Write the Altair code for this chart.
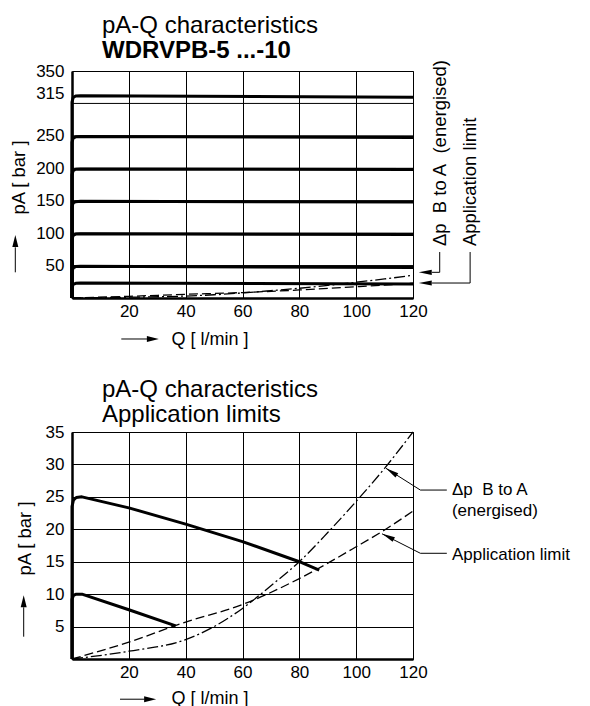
import altair as alt
import pandas as pd

FONT = "Liberation Sans"

# ---------------- top chart: pA-Q characteristics ----------------
top_curve_q = [0, 0, 0.4, 1.3, 3, 120]
top_pa_315 = [0, 302, 309, 311.5, 312, 309.5]
top_pa_250 = [0, 240, 246.5, 248.5, 249, 247.5]
top_pa_200 = [0, 190, 196.5, 198.5, 199, 198]
top_pa_150 = [0, 140, 146.5, 148.5, 149, 148]
top_pa_100 = [0, 90, 96.5, 98.5, 99, 98]
top_pa_50 = [0, 40, 46.5, 48.5, 49, 47]
top_pa_25 = [0, 15, 21, 22.7, 23, 21.5]

top_grid_pa = [50, 100, 150, 200, 250, 300]
top_y_labels = [50, 100, 150, 200, 250, 315, 350]
x_labels = [20, 40, 60, 80, 100, 120]

# shared characteristic lines (same in both charts)
limit_q = [0, 20, 40, 60, 80, 100, 110, 120]
limit_pa = [0, 2.6, 5.7, 8.4, 12.4, 17.3, 19.9, 22.8]
dp_q = [0, 20, 40, 50, 60, 70, 80, 90, 100, 110, 120]
dp_pa = [0, 1.2, 3.0, 5.0, 7.8, 11.3, 15.0, 19.5, 24.3, 29.4, 35.0]

# ---------------- bottom chart: application limits ----------------
bot_q_25 = [0, 0, 0.5, 1.5, 3.5, 20, 40, 60, 80, 87]
bot_pa_25 = [0, 23.5, 24.5, 24.9, 25, 23.3, 20.8, 18.1, 15.0, 13.7]
bot_q_10 = [0, 0, 0.5, 1.5, 3.5, 20, 36.5]
bot_pa_10 = [0, 9.2, 9.8, 10, 10, 7.6, 5.1]
bot_y_labels = [5, 10, 15, 20, 25, 30, 35]

# ---------------- annotations ----------------
top_note_text = ["Δp\u00a0 B to A\u00a0 (energised)", "Application limit"]
top_note_q = [129.4, 140.1]
top_note_pa = [80, 80]
top_lead_q = [129.4, 129.4, 140.1, 140.1, 17.35, -19.95]
top_lead_pa = [70.9, 39.6, 70.9, 23.1, -63.2, 39.6]
top_lead_q2 = [129.4, 126.7, 140.1, 126.7, 26.4, -19.95]
top_lead_pa2 = [39.6, 39.6, 23.1, 23.1, -63.2, 78.2]
top_head_q = [124.3, 124.3]
top_head_pa = [39.6, 23.1]
top_head_angle = [270, 270]
top_axis_head_q = [28.45, -19.95]
top_axis_head_pa = [-63.2, 87.7]
top_axis_head_angle = [90, 0]

bot_note_text = ["Δp\u00a0 B to A", "(energised)", "Application limit"]
bot_note_q = [133.7, 133.7, 133.7]
bot_note_pa = [26.0, 22.8, 16.0]
bot_lead_q = [122.6, 122.6, 122.6, 122.6, 16.9, -17.0]
bot_lead_pa = [26.05, 26.05, 16.3, 16.3, -6.2, 3.44]
bot_lead_q2 = [131.9, 110.5, 131.9, 109.1, 25.5, -17.0]
bot_lead_pa2 = [26.05, 29.4, 16.3, 19.3, -6.2, 7.97]
bot_head_q = [112.4, 111.2]
bot_head_pa = [28.86, 18.87]
bot_head_angle = [302.6, 296.9]
bot_axis_head_q = [27.5, -17.0]
bot_axis_head_pa = [-6.2, 8.91]
bot_axis_head_angle = [90, 0]

NOTE_ARROW = "M0,-1L0.4,1L-0.4,1Z"
AXIS_ARROW = "M0,-1L0.5,1L-0.5,1Z"


def curves_df(named):
    rows = []
    for name, qs, ps in named:
        for i, (q, p) in enumerate(zip(qs, ps)):
            rows.append({"curve": name, "i": i, "Q": q, "pA": p})
    return pd.DataFrame(rows)


def build(thick, y_domain, y_labels, y_grid, grid_rules, title,
          note_text, note_q, note_pa, note_angle, note_size,
          lead, head, axis_head, x_title_y, y_title_x):
    xs = alt.X("Q:Q", scale=alt.Scale(domain=[0, 120], nice=False, zero=False),
               axis=alt.Axis(values=x_labels, grid=True, title="Q [ l/min ]",
                             titleX=99, titleY=x_title_y, titleAlign="left",
                             titleBaseline="middle", titleFontSize=18))
    ys = alt.Y("pA:Q", scale=alt.Scale(domain=y_domain, nice=False, zero=False),
               axis=alt.Axis(values=y_labels, grid=y_grid, title="pA [ bar ]",
                             titleAngle=270, titleX=y_title_x, titleY=143,
                             titleAlign="left", titleBaseline="middle",
                             titleFontSize=18.5))
    layers = []
    if grid_rules:
        gdf = pd.DataFrame({"pA": grid_rules})
        layers.append(alt.Chart(gdf).mark_rule(color="black", strokeWidth=1)
                      .encode(y=ys))
    lim = curves_df([("limit", limit_q, limit_pa)])
    dp = curves_df([("dp", dp_q, dp_pa)])
    layers.append(alt.Chart(lim).mark_line(color="black", strokeWidth=1.3,
                                           strokeDash=[9, 4], interpolate="monotone")
                  .encode(x=xs, y=ys, order="i:Q"))
    layers.append(alt.Chart(dp).mark_line(color="black", strokeWidth=1.3,
                                          strokeDash=[11, 3, 2, 3], interpolate="monotone")
                  .encode(x=xs, y=ys, order="i:Q"))
    layers.append(alt.Chart(curves_df(thick)).mark_line(color="black", strokeWidth=3,
                                                        strokeJoin="round")
                  .encode(x=xs, y=ys, detail="curve:N", order="i:Q"))
    ldf = pd.DataFrame({"Q": lead[0], "pA": lead[1], "Q2": lead[2], "pA2": lead[3]})
    layers.append(alt.Chart(ldf).mark_rule(color="black", strokeWidth=1)
                  .encode(x=xs, y=ys, x2="Q2:Q", y2="pA2:Q"))
    hdf = pd.DataFrame({"Q": head[0], "pA": head[1], "ang": head[2]})
    layers.append(alt.Chart(hdf).mark_point(shape=NOTE_ARROW, filled=True, size=169,
                                            color="black", opacity=1, strokeWidth=0)
                  .encode(x=xs, y=ys, angle=alt.Angle("ang:Q", scale=None)))
    adf = pd.DataFrame({"Q": axis_head[0], "pA": axis_head[1], "ang": axis_head[2]})
    layers.append(alt.Chart(adf).mark_point(shape=AXIS_ARROW, filled=True, size=144,
                                            color="black", opacity=1, strokeWidth=0)
                  .encode(x=xs, y=ys, angle=alt.Angle("ang:Q", scale=None)))
    ndf = pd.DataFrame({"Q": note_q, "pA": note_pa, "t": note_text})
    layers.append(alt.Chart(ndf).mark_text(angle=note_angle, align="left",
                                           baseline="middle", font=FONT,
                                           fontSize=note_size, color="black")
                  .encode(x=xs, y=ys, text="t:N"))
    return alt.layer(*layers).properties(width=341, height=227, title=title)


def title_params(text, sub, sub_weight):
    return alt.TitleParams(
        text=text, subtitle=sub, anchor="start", frame="group", dx=30,
        font=FONT, fontSize=24, fontWeight="normal", color="black",
        subtitleFont=FONT, subtitleFontSize=24, subtitleFontWeight=sub_weight,
        subtitleColor="black", subtitlePadding=1, offset=-4)


top = build(
    [("315", top_curve_q, top_pa_315), ("250", top_curve_q, top_pa_250),
     ("200", top_curve_q, top_pa_200), ("150", top_curve_q, top_pa_150),
     ("100", top_curve_q, top_pa_100), ("50", top_curve_q, top_pa_50),
     ("25", top_curve_q, top_pa_25)],
    [0, 350], top_y_labels, False, top_grid_pa,
    title_params("pA-Q characteristics", "WDRVPB-5 ...-10", "bold"),
    top_note_text, top_note_q, top_note_pa, 270, 18.5,
    (top_lead_q, top_lead_pa, top_lead_q2, top_lead_pa2),
    (top_head_q, top_head_pa, top_head_angle),
    (top_axis_head_q, top_axis_head_pa, top_axis_head_angle), 41, -54)

bottom = build(
    [("25", bot_q_25, bot_pa_25), ("10", bot_q_10, bot_pa_10)],
    [0, 35], bot_y_labels, True, None,
    title_params("pA-Q characteristics", "Application limits", "normal"),
    bot_note_text, bot_note_q, bot_note_pa, 0, 17,
    (bot_lead_q, bot_lead_pa, bot_lead_q2, bot_lead_pa2),
    (bot_head_q, bot_head_pa, bot_head_angle),
    (bot_axis_head_q, bot_axis_head_pa, bot_axis_head_angle), 39, -48)

chart = (
    alt.vconcat(top, bottom, spacing=28)
    .properties(padding={"left": 0, "top": 5, "right": 0, "bottom": 0})
    .configure_axis(labelFont=FONT, labelFontSize=17, labelColor="black",
                    titleFont=FONT, titleFontWeight="normal",
                    titleColor="black", domainColor="black", domainWidth=2.5,
                    ticks=False, gridColor="black", gridWidth=1, gridOpacity=1,
                    labelFlush=False)
    .configure_axisX(labelPadding=5)
    .configure_axisY(labelPadding=8)
    .configure_view(stroke="black", strokeWidth=1)
)

chart.save("out.html", embed_options={"renderer": "svg", "actions": False})
